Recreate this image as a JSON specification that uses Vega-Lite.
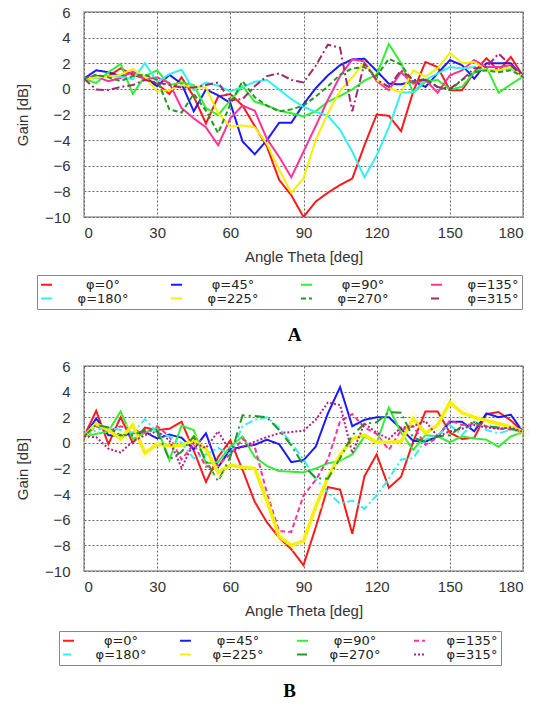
{
"$schema":"https://vega.github.io/schema/vega-lite/v6.json",
"padding":{"left":14,"top":4,"right":5,"bottom":0},
"background":"white",
"config":{
 "view":{"stroke":"#999","strokeWidth":1.5},
 "font":"Liberation Sans",
 "axis":{"domain":false,"ticks":false,"grid":true,"gridColor":"#666","gridDash":[2,2],"gridWidth":1,"labelFont":"Liberation Sans","labelFontSize":15,"labelColor":"#333","titleFont":"Liberation Sans","titleFontSize":15,"titleFontWeight":"normal","titleColor":"#333","labelOverlap":false},
 "axisX":{"labelPadding":8,"titlePadding":9},
 "axisY":{"labelPadding":14,"titlePadding":14},
 "concat":{"spacing":12}
},
"datasets":{
"A":[
{"t":0,"p0":0.8,"p45":0.8,"p90":0.8,"p135":0.8,"p180":0.8,"p225":0.8,"p270":0.8,"p315":0.8},
{"t":5,"p0":1.0,"p45":1.45,"p90":0.45,"p135":0.95,"p180":0.85,"p225":0.9,"p270":1.1,"p315":-0.05},
{"t":10,"p0":1.0,"p45":1.3,"p90":1.3,"p135":0.6,"p180":1.0,"p225":0.95,"p270":0.9,"p315":-0.1},
{"t":15,"p0":1.6,"p45":1.0,"p90":1.95,"p135":0.85,"p180":0.95,"p225":1.1,"p270":0.6,"p315":0.15},
{"t":20,"p0":1.1,"p45":1.3,"p90":-0.4,"p135":1.35,"p180":0.75,"p225":1.55,"p270":1.0,"p315":0.3},
{"t":25,"p0":0.8,"p45":0.85,"p90":1.0,"p135":0.75,"p180":2.0,"p225":0.95,"p270":1.1,"p315":0.7},
{"t":30,"p0":0.4,"p45":0.2,"p90":1.45,"p135":0.9,"p180":0.55,"p225":-0.2,"p270":0.7,"p315":0.5},
{"t":35,"p0":-0.4,"p45":1.1,"p90":0.3,"p135":0.45,"p180":1.15,"p225":-0.1,"p270":-1.6,"p315":0.3},
{"t":40,"p0":0.9,"p45":0.4,"p90":0.5,"p135":-1.5,"p180":1.5,"p225":0.3,"p270":-1.85,"p315":0.1},
{"t":45,"p0":-0.6,"p45":-1.75,"p90":0.3,"p135":-2.3,"p180":-0.1,"p225":0.1,"p270":-0.4,"p315":0.1},
{"t":50,"p0":-2.7,"p45":-0.05,"p90":-1.5,"p135":-3.0,"p180":0.5,"p225":0.1,"p270":-1.7,"p315":0.3},
{"t":55,"p0":-0.6,"p45":-0.5,"p90":-2.05,"p135":-4.4,"p180":0.25,"p225":-1.9,"p270":-3.45,"p315":0.5},
{"t":60,"p0":-0.4,"p45":-1.1,"p90":-0.9,"p135":-2.3,"p180":-0.2,"p225":-2.95,"p270":-1.2,"p315":-0.9},
{"t":65,"p0":-1.3,"p45":-4.1,"p90":0.2,"p135":-1.3,"p180":0.15,"p225":-2.85,"p270":0.6,"p315":-0.8},
{"t":70,"p0":-2.9,"p45":-5.1,"p90":-1.0,"p135":-1.7,"p180":0.55,"p225":-3.0,"p270":-0.65,"p315":0.2},
{"t":75,"p0":-4.5,"p45":-4.0,"p90":-1.3,"p135":-3.9,"p180":0.7,"p225":-4.3,"p270":-1.3,"p315":1.0},
{"t":80,"p0":-7.1,"p45":-2.65,"p90":-1.7,"p135":-5.3,"p180":-0.05,"p225":-6.3,"p270":-1.75,"p315":1.2},
{"t":85,"p0":-8.3,"p45":-2.65,"p90":-1.9,"p135":-6.9,"p180":-0.8,"p225":-8.1,"p270":-1.6,"p315":0.7},
{"t":90,"p0":-10,"p45":-1.2,"p90":-2.15,"p135":-4.9,"p180":-1.4,"p225":-7.0,"p270":-1.3,"p315":0.5},
{"t":95,"p0":-8.8,"p45":0.05,"p90":-1.75,"p135":-2.9,"p180":-1.8,"p225":-4.0,"p270":-0.6,"p315":1.8},
{"t":100,"p0":-8.1,"p45":1.05,"p90":-1.0,"p135":-0.85,"p180":-2.1,"p225":-1.9,"p270":0.2,"p315":3.45},
{"t":105,"p0":-7.5,"p45":1.85,"p90":-0.55,"p135":1.0,"p180":-3.2,"p225":-0.15,"p270":1.1,"p315":3.2},
{"t":110,"p0":-7.0,"p45":2.3,"p90":-0.05,"p135":2.3,"p180":-4.9,"p225":0.9,"p270":1.6,"p315":-1.75},
{"t":115,"p0":-4.4,"p45":2.35,"p90":0.65,"p135":2.15,"p180":-6.9,"p225":2.1,"p270":1.7,"p315":2.0},
{"t":120,"p0":-2.0,"p45":1.4,"p90":1.1,"p135":0.6,"p180":-5.2,"p225":0.7,"p270":1.0,"p315":0.7},
{"t":125,"p0":-2.1,"p45":0.4,"p90":3.5,"p135":-0.1,"p180":-3.0,"p225":0.1,"p270":2.35,"p315":0.15},
{"t":130,"p0":-3.3,"p45":0.35,"p90":2.0,"p135":1.3,"p180":-0.3,"p225":-0.3,"p270":1.9,"p315":1.45},
{"t":135,"p0":-0.2,"p45":0.6,"p90":-0.3,"p135":0.4,"p180":-0.25,"p225":1.45,"p270":0.55,"p315":0.7},
{"t":140,"p0":2.1,"p45":0.15,"p90":0.55,"p135":0.7,"p180":0.7,"p225":0.95,"p270":0.8,"p315":0.7},
{"t":145,"p0":1.7,"p45":1.2,"p90":0.7,"p135":-0.3,"p180":1.2,"p225":1.6,"p270":0.15,"p315":0.15},
{"t":150,"p0":-0.1,"p45":2.25,"p90":-0.05,"p135":1.05,"p180":1.7,"p225":2.8,"p270":-0.1,"p315":0.0},
{"t":155,"p0":-0.1,"p45":1.85,"p90":0.15,"p135":1.45,"p180":1.6,"p225":2.0,"p270":0.7,"p315":0.7},
{"t":160,"p0":1.3,"p45":0.8,"p90":1.3,"p135":2.25,"p180":1.7,"p225":2.1,"p270":1.3,"p315":1.6},
{"t":165,"p0":2.4,"p45":2.0,"p90":1.7,"p135":1.7,"p180":1.45,"p225":1.45,"p270":1.45,"p315":1.7},
{"t":170,"p0":1.4,"p45":2.0,"p90":-0.3,"p135":1.7,"p180":1.45,"p225":1.45,"p270":1.3,"p315":2.75},
{"t":175,"p0":2.5,"p45":2.0,"p90":0.35,"p135":1.85,"p180":1.6,"p225":1.7,"p270":1.45,"p315":1.85},
{"t":180,"p0":1.0,"p45":0.95,"p90":0.95,"p135":0.95,"p180":0.95,"p225":0.95,"p270":0.95,"p315":0.95}
],
"B":[
{"t":0,"p0":0.5,"p45":0.5,"p90":0.5,"p135":0.5,"p180":0.5,"p225":0.5,"p270":0.5,"p315":0.5},
{"t":5,"p0":2.5,"p45":1.9,"p90":0.7,"p135":1.3,"p180":1.0,"p225":1.5,"p270":1.4,"p315":0.45},
{"t":10,"p0":-0.1,"p45":0.6,"p90":0.9,"p135":0.9,"p180":1.2,"p225":1.0,"p270":1.2,"p315":-0.45},
{"t":15,"p0":2.0,"p45":0.55,"p90":2.45,"p135":1.3,"p180":1.0,"p225":0.3,"p270":0.6,"p315":-0.75},
{"t":20,"p0":0.0,"p45":0.75,"p90":0.3,"p135":1.0,"p180":0.8,"p225":1.4,"p270":0.6,"p315":0.1},
{"t":25,"p0":1.2,"p45":0.85,"p90":0.8,"p135":0.8,"p180":1.85,"p225":-0.8,"p270":1.0,"p315":0.6},
{"t":30,"p0":1.0,"p45":0.35,"p90":1.2,"p135":1.3,"p180":0.8,"p225":-0.1,"p270":0.9,"p315":0.9},
{"t":35,"p0":1.1,"p45":0.65,"p90":-1.35,"p135":0.5,"p180":0.5,"p225":-0.2,"p270":-1.3,"p315":0.2},
{"t":40,"p0":1.65,"p45":0.4,"p90":1.35,"p135":-1.3,"p180":0.0,"p225":-0.2,"p270":-0.7,"p315":-1.95},
{"t":45,"p0":-0.6,"p45":-0.5,"p90":1.0,"p135":-0.1,"p180":-1.2,"p225":0.2,"p270":0.5,"p315":0.0},
{"t":50,"p0":-3.05,"p45":0.75,"p90":-1.6,"p135":-1.85,"p180":-0.9,"p225":-0.5,"p270":-1.4,"p315":-0.4},
{"t":55,"p0":-1.1,"p45":-1.9,"p90":-1.5,"p135":-1.7,"p180":-0.4,"p225":-2.3,"p270":-3.0,"p315":0.9},
{"t":60,"p0":0.2,"p45":-0.5,"p90":-0.3,"p135":-0.9,"p180":-0.9,"p225":-1.75,"p270":-1.1,"p315":-0.7},
{"t":65,"p0":-2.1,"p45":-0.3,"p90":0.5,"p135":0.3,"p180":1.3,"p225":-1.9,"p270":2.15,"p315":-0.3},
{"t":70,"p0":-4.6,"p45":-0.15,"p90":-1.1,"p135":-0.3,"p180":1.8,"p225":-2.0,"p270":2.1,"p315":0.1},
{"t":75,"p0":-6.2,"p45":0.25,"p90":-1.8,"p135":-3.9,"p180":2.0,"p225":-4.5,"p270":2.0,"p315":0.45},
{"t":80,"p0":-7.4,"p45":-0.1,"p90":-2.2,"p135":-6.9,"p180":1.15,"p225":-7.3,"p270":1.0,"p315":0.75},
{"t":85,"p0":-8.3,"p45":-1.5,"p90":-2.25,"p135":-6.95,"p180":0.0,"p225":-8.0,"p270":-0.2,"p315":0.85},
{"t":90,"p0":-9.55,"p45":-1.35,"p90":-2.3,"p135":-4.1,"p180":-1.3,"p225":-7.65,"p270":-1.75,"p315":0.95},
{"t":95,"p0":-6.6,"p45":-0.3,"p90":-2.0,"p135":-2.9,"p180":-2.8,"p225":-5.0,"p270":-2.75,"p315":1.8},
{"t":100,"p0":-3.45,"p45":2.3,"p90":-1.6,"p135":-1.3,"p180":-3.85,"p225":-2.7,"p270":-2.8,"p315":3.15},
{"t":105,"p0":-3.65,"p45":4.35,"p90":-1.4,"p135":1.7,"p180":-4.75,"p225":-0.95,"p270":-1.2,"p315":2.95},
{"t":110,"p0":-7.1,"p45":1.3,"p90":-0.9,"p135":2.25,"p180":-4.5,"p225":0.3,"p270":0.6,"p315":-0.8},
{"t":115,"p0":-2.6,"p45":1.8,"p90":0.5,"p135":1.2,"p180":-5.15,"p225":0.6,"p270":1.5,"p315":1.5},
{"t":120,"p0":-0.9,"p45":2.0,"p90":0.0,"p135":0.7,"p180":-4.1,"p225":0.05,"p270":1.6,"p315":0.8},
{"t":125,"p0":-3.5,"p45":2.0,"p90":2.75,"p135":-0.55,"p180":-2.8,"p225":0.05,"p270":2.4,"p315":0.3},
{"t":130,"p0":-2.65,"p45":1.1,"p90":0.8,"p135":1.0,"p180":-1.3,"p225":0.1,"p270":2.35,"p315":1.2},
{"t":135,"p0":0.1,"p45":0.15,"p90":-0.55,"p135":1.3,"p180":-1.2,"p225":1.9,"p270":0.4,"p315":1.3},
{"t":140,"p0":2.45,"p45":0.1,"p90":0.6,"p135":-0.15,"p180":0.25,"p225":0.75,"p270":0.1,"p315":1.7},
{"t":145,"p0":2.45,"p45":0.5,"p90":0.5,"p135":0.4,"p180":0.6,"p225":1.4,"p270":0.5,"p315":0.5},
{"t":150,"p0":0.8,"p45":1.65,"p90":0.05,"p135":1.75,"p180":1.4,"p225":3.15,"p270":0.6,"p315":0.9},
{"t":155,"p0":0.3,"p45":1.65,"p90":0.5,"p135":1.4,"p180":0.6,"p225":2.35,"p270":1.3,"p315":1.1},
{"t":160,"p0":0.4,"p45":0.9,"p90":0.35,"p135":1.45,"p180":1.65,"p225":2.0,"p270":1.6,"p315":1.4},
{"t":165,"p0":2.25,"p45":2.3,"p90":0.25,"p135":1.3,"p180":1.0,"p225":1.75,"p270":1.3,"p315":1.2},
{"t":170,"p0":2.4,"p45":2.0,"p90":-0.3,"p135":1.1,"p180":0.75,"p225":1.5,"p270":1.2,"p315":1.1},
{"t":175,"p0":1.75,"p45":2.2,"p90":0.5,"p135":1.05,"p180":1.0,"p225":1.25,"p270":1.1,"p315":1.2},
{"t":180,"p0":0.85,"p45":0.85,"p90":0.85,"p135":0.85,"p180":0.85,"p225":0.85,"p270":0.85,"p315":0.85}
]
},
"vconcat":[
{
 "width":439,"height":205,
 "title":{"text":"A","orient":"bottom","font":"Liberation Serif","fontSize":19,"fontWeight":"bold","color":"#000","offset":16,"anchor":"middle","frame":"group","dx":-9},
 "data":{"name":"A"},
 "transform":[{"fold":["p0","p45","p90","p135","p180","p225","p270","p315"],"as":["phi","g"]}],
 "mark":{"type":"line","strokeWidth":2,"clip":true},
 "encoding":{
  "x":{"field":"t","type":"quantitative","scale":{"domain":[0,180],"nice":false},"axis":{"values":[0,30,60,90,120,150,180],"title":"Angle Theta [deg]"}},
  "y":{"field":"g","type":"quantitative","scale":{"domain":[-10,6],"nice":false},"axis":{"values":[-10,-8,-6,-4,-2,0,2,4,6],"title":"Gain [dB]"}},
  "color":{"field":"phi","type":"nominal","scale":{"domain":["p0","p45","p90","p135","p180","p225","p270","p315"],"range":["#ff1a1a","#1a1aff","#33ee33","#ff3399","#33f0f0","#f5f000","#229922","#a02a70"]},
   "legend":{"title":null,"orient":"none","direction":"horizontal","legendX":-47,"legendY":263,"columns":4,"symbolType":"stroke","symbolSize":120,"symbolStrokeWidth":2,"labelFont":"DejaVu Sans","labelFontSize":13,"labelColor":"#222","labelAlign":"center","labelOffset":50,"columnPadding":38,"rowPadding":0,"padding":3,"strokeColor":"#888","labelExpr":"'φ=' + slice(datum.label,1) + '°'"}},
  "strokeDash":{"field":"phi","type":"nominal","scale":{"domain":["p0","p45","p90","p135","p180","p225","p270","p315"],"range":[[1,0],[1,0],[1,0],[1,0],[1,0],[1,0],[5,3],[8,3,2,3]]},
   "legend":{"title":null,"orient":"none","direction":"horizontal","legendX":-47,"legendY":263,"columns":4,"symbolType":"stroke","symbolSize":120,"symbolStrokeWidth":2,"labelFont":"DejaVu Sans","labelFontSize":13,"labelColor":"#222","labelAlign":"center","labelOffset":50,"columnPadding":38,"rowPadding":0,"padding":3,"strokeColor":"#888","labelExpr":"'φ=' + slice(datum.label,1) + '°'"}}
 }
},
{
 "width":439,"height":205,
 "title":{"text":"B","orient":"bottom","font":"Liberation Serif","fontSize":19,"fontWeight":"bold","color":"#000","offset":16,"anchor":"middle","frame":"group","dx":-14},
 "data":{"name":"B"},
 "transform":[{"fold":["p0","p45","p90","p135","p180","p225","p270","p315"],"as":["phi","g"]}],
 "encoding":{
  "x":{"field":"t","type":"quantitative","scale":{"domain":[0,180],"nice":false},"axis":{"values":[0,30,60,90,120,150,180],"title":"Angle Theta [deg]"}},
  "y":{"field":"g","type":"quantitative","scale":{"domain":[-10,6],"nice":false},"axis":{"values":[-10,-8,-6,-4,-2,0,2,4,6],"title":"Gain [dB]"}}
 },
 "layer":[
 {
 "mark":{"type":"line","clip":true},
 "encoding":{
  "strokeWidth":{"condition":{"test":"datum.phi === 'p225'","value":3.5},"value":2},
  "color":{"field":"phi","type":"nominal","scale":{"domain":["p0","p45","p90","p135","p180","p225","p270","p315"],"range":["#ff1a1a","#1a1aff","#33ee33","#ff3399","#33f0f0","#f5f000","#229922","#b0208a"]},
   "legend":{"title":null,"orient":"none","direction":"horizontal","legendX":-25,"legendY":265,"columns":4,"symbolType":"stroke","symbolSize":120,"symbolStrokeWidth":2,"labelFont":"DejaVu Sans","labelFontSize":13,"labelColor":"#222","labelAlign":"center","labelOffset":46,"columnPadding":29,"rowPadding":0,"padding":3,"strokeColor":"#888","labelExpr":"'φ=' + slice(datum.label,1) + '°'"}},
  "strokeDash":{"field":"phi","type":"nominal","scale":{"domain":["p0","p45","p90","p135","p180","p225","p270","p315"],"range":[[1,0],[1,0],[1,0],[5,3],[8,3,2,3],[1,0],[10,4,2,4],[2,2]]},
   "legend":{"title":null,"orient":"none","direction":"horizontal","legendX":-25,"legendY":265,"columns":4,"symbolType":"stroke","symbolSize":120,"symbolStrokeWidth":2,"labelFont":"DejaVu Sans","labelFontSize":13,"labelColor":"#222","labelAlign":"center","labelOffset":46,"columnPadding":29,"rowPadding":0,"padding":3,"strokeColor":"#888","labelExpr":"'φ=' + slice(datum.label,1) + '°'"}}
 }
 },
 {
 "transform":[{"filter":"datum.phi === 'p225'"},{"filter":{"field":"t","oneOf":[0,15,20,25,45,55,75,80,85,90,95,105,120,130,135,145,150,155,160,180]}}],
 "mark":{"type":"point","shape":"diamond","filled":false,"size":170,"strokeWidth":1,"color":"#f7f27a","clip":false}
 }
 ]
}
],
"resolve":{"scale":{"color":"independent","strokeDash":"independent"},"legend":{"color":"independent","strokeDash":"independent"}}
}
